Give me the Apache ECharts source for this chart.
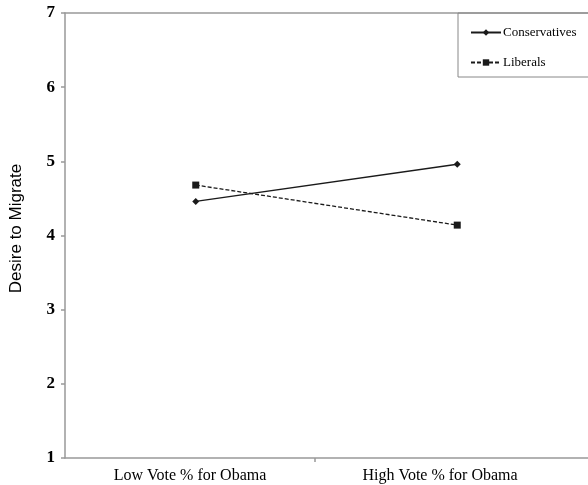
<!DOCTYPE html>
<html>
<head>
<meta charset="utf-8">
<script src="https://cdn.jsdelivr.net/npm/echarts@6/dist/echarts.min.js"></script>
<style>html,body{margin:0;padding:0;background:#fff}#c{width:588px;height:485px}</style>
</head>
<body>
<div id="c"></div>
<script>
const categories = ['Low Vote % for Obama', 'High Vote % for Obama'];
const conservatives = [4.46, 4.96];
const liberals = [4.68, 4.14];
const yTicks = [1, 2, 3, 4, 5, 6, 7];

const FONT = 'Liberation Serif';
const AXIS = '#999';
const chart = echarts.init(document.getElementById('c'), null, {renderer: 'canvas'});
chart.setOption({
  animation: false,
  backgroundColor: '#fff',
  grid: [
    {left: 65, right: 0, top: 13, bottom: 27},
    {left: 65, width: 500, top: 13, bottom: 27}
  ],
  legend: {
    orient: 'vertical',
    left: 458, top: 13,
    padding: [13, 12, 8, 12],
    borderColor: '#888', borderWidth: 1,
    itemWidth: 30, itemHeight: 8, itemGap: 17,
    textStyle: {fontFamily: FONT, fontSize: 13, color: '#000', padding: [0, 0, 0, -3]},
    data: ['Conservatives', 'Liberals']
  },
  xAxis: [
    {type: 'category', gridIndex: 0, data: categories, boundaryGap: true,
     axisLine: {lineStyle: {color: AXIS, width: 1.5}}, axisTick: {show: false}, axisLabel: {show: false}, splitLine: {show: false}},
    {type: 'category', gridIndex: 0, position: 'top', data: categories,
     axisLine: {lineStyle: {color: AXIS, width: 1.5}}, axisTick: {show: false}, axisLabel: {show: false}, splitLine: {show: false}},
    {type: 'value', gridIndex: 1, min: 0, max: categories.length,
     axisLine: {show: false},
     axisTick: {show: true, length: 4, lineStyle: {color: AXIS, width: 1.5},
                customValues: categories.slice(1).map(function (c, i) { return i + 1; })},
     axisLabel: {fontFamily: FONT, fontSize: 16, color: '#000', margin: 10,
                 customValues: categories.map(function (c, i) { return i + 0.5; }),
                 formatter: function (v) { return categories[Math.floor(v)]; }},
     splitLine: {show: false}}
  ],
  yAxis: [
    {type: 'value', gridIndex: 0, min: yTicks[0], max: yTicks[yTicks.length - 1], interval: 1,
     name: 'Desire to Migrate', nameLocation: 'middle', nameGap: 40, nameRotate: 90,
     nameTextStyle: {fontFamily: 'Liberation Sans', fontSize: 17, color: '#000', padding: [0, 0, 0, 14]},
     axisLine: {show: true, lineStyle: {color: AXIS, width: 1.5}},
     axisTick: {show: true, length: 4, inside: false, lineStyle: {color: AXIS, width: 1.5}},
     axisLabel: {fontFamily: FONT, fontSize: 17, fontWeight: 'bold', color: '#000', margin: 10},
     splitLine: {show: false}},
    {type: 'value', gridIndex: 1, min: 1, max: 7, show: false}
  ],
  series: [
    {name: 'Conservatives', type: 'line', xAxisIndex: 0, yAxisIndex: 0, data: conservatives,
     symbol: 'diamond', symbolSize: 7, lineStyle: {color: '#1a1a1a', width: 1.4}, itemStyle: {color: '#1a1a1a'}},
    {name: 'Liberals', type: 'line', xAxisIndex: 0, yAxisIndex: 0, data: liberals,
     symbol: 'rect', symbolSize: 7, lineStyle: {color: '#1a1a1a', width: 1.3, type: [4, 2]}, itemStyle: {color: '#1a1a1a'}}
  ]
});
</script>
</body>
</html>
